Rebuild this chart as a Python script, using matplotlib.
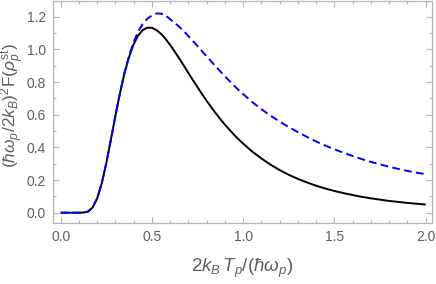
"""Recreate the two-curve Mathematica-style frame plot."""

import matplotlib

matplotlib.use("Agg")

import matplotlib.pyplot as plt  # noqa: E402
from matplotlib.ticker import MultipleLocator  # noqa: E402

# Values.
t_values = [
    0.0, 0.05, 0.1, 0.125, 0.15, 0.175, 0.2, 0.225, 0.25, 0.275, 0.3, 0.325,
    0.35, 0.375, 0.4, 0.425, 0.45, 0.475, 0.5, 0.525, 0.55, 0.575, 0.6,
    0.625, 0.65, 0.675, 0.7, 0.725, 0.75, 0.775, 0.8, 0.825, 0.85, 0.875,
    0.9, 0.925, 0.95, 0.975, 1.0, 1.05, 1.1, 1.15, 1.2, 1.25, 1.3, 1.35,
    1.4, 1.45, 1.5, 1.55, 1.6, 1.65, 1.7, 1.75, 1.8, 1.85, 1.9, 1.95, 2.0,
]
black_values = [
    0.0, 0.0, 0.0, 0.001, 0.007, 0.032, 0.088, 0.180, 0.304, 0.447, 0.594,
    0.733, 0.855, 0.955, 1.032, 1.086, 1.119, 1.133, 1.132, 1.118, 1.095,
    1.064, 1.027, 0.986, 0.944, 0.900, 0.855, 0.811, 0.768, 0.725, 0.685,
    0.646, 0.608, 0.573, 0.539, 0.508, 0.477, 0.449, 0.423, 0.374, 0.332,
    0.294, 0.261, 0.232, 0.207, 0.185, 0.165, 0.148, 0.133, 0.120, 0.108,
    0.097, 0.088, 0.080, 0.072, 0.066, 0.060, 0.055, 0.050,
]
blue_values = [
    0.0, 0.0, 0.0, 0.001, 0.007, 0.032, 0.088, 0.180, 0.304, 0.447, 0.594,
    0.734, 0.858, 0.962, 1.046, 1.110, 1.157, 1.188, 1.208, 1.220, 1.219,
    1.208, 1.184, 1.162, 1.138, 1.111, 1.081, 1.051, 1.020, 0.988, 0.957,
    0.926, 0.895, 0.865, 0.835, 0.807, 0.778, 0.751, 0.726, 0.677, 0.634,
    0.594, 0.558, 0.524, 0.493, 0.464, 0.436, 0.411, 0.388, 0.367, 0.347,
    0.328, 0.311, 0.296, 0.281, 0.268, 0.256, 0.245, 0.236,
]

FRAME_GRAY = "#b4b4b4"
TEXT_GRAY = "#5f5f5f"

plt.rcParams["mathtext.fontset"] = "custom"
plt.rcParams["mathtext.rm"] = "Liberation Sans"
plt.rcParams["mathtext.it"] = "Liberation Sans:italic"
plt.rcParams["font.family"] = ["Liberation Sans", "DejaVu Sans"]

fig = plt.figure(figsize=(4.36, 2.84), dpi=100)
ax = fig.add_axes([0.1216, 0.2148, 0.8694, 0.7827])

ax.plot(t_values, black_values, color="black", linewidth=1.4, solid_capstyle="butt")
ax.plot(t_values, blue_values, color="#0000ff", linewidth=1.4, linestyle=(0, (4.0, 2.2)))

ax.set_xlim(-0.042, 2.035)
ax.set_ylim(-0.063, 1.298)

ax.xaxis.set_major_locator(MultipleLocator(0.5))
ax.xaxis.set_minor_locator(MultipleLocator(0.1))
ax.yaxis.set_major_locator(MultipleLocator(0.2))
ax.yaxis.set_minor_locator(MultipleLocator(0.1))
ax.xaxis.set_major_formatter(lambda v, pos: f"{v:.1f}")
ax.yaxis.set_major_formatter(lambda v, pos: f"{v:.1f}")

for spine in ax.spines.values():
    spine.set_color(FRAME_GRAY)
    spine.set_linewidth(0.9)

ax.tick_params(which="both", direction="in", top=True, right=True, color=FRAME_GRAY,
               labelcolor=TEXT_GRAY, labelsize=10, width=0.8)
ax.tick_params(which="major", length=4.0, pad=5)
ax.tick_params(which="minor", length=2.2)

ax.set_xlabel(r"$2k_B\,T_p/(\hbar\omega_p)$", color=TEXT_GRAY, fontsize=13.5)
ax.xaxis.set_label_coords(0.5, -0.205)
ax.xaxis.label.set_verticalalignment("center")
ax.set_ylabel(r"$(\hbar\omega_p/2k_B)^2\mathrm{F}(\rho_p^{\mathrm{st}})$", color=TEXT_GRAY,
              fontsize=12.5)
ax.yaxis.set_label_coords(-0.106, 0.53)
ax.yaxis.label.set_verticalalignment("center")

fig.savefig("out.png", dpi=100)
